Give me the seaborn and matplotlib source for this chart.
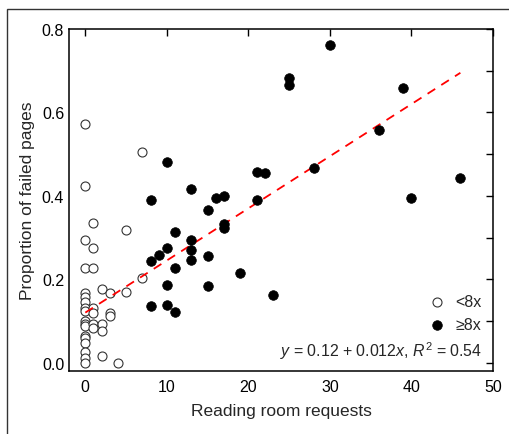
import matplotlib
matplotlib.use("Agg")
import matplotlib.pyplot as plt
import seaborn as sns
import pandas as pd
import numpy as np
from matplotlib.patches import Rectangle
from matplotlib.ticker import MultipleLocator

# puntos con menos de 8 consultas (circulos vacios)
x_menos = [0, 0, 0, 0, 0, 0, 0, 0, 0, 0, 0, 0, 0, 0, 0, 0, 0, 0,
           1, 1, 1, 1, 1, 1, 1,
           2, 2, 2, 2,
           3, 3, 3,
           4,
           5, 5,
           7, 7]
y_menos = [0.573, 0.423, 0.293, 0.228, 0.168, 0.157, 0.145, 0.132, 0.125,
           0.100, 0.092, 0.088, 0.065, 0.058, 0.048, 0.025, 0.012, 0.0,
           0.334, 0.276, 0.228, 0.132, 0.120, 0.092, 0.084,
           0.176, 0.092, 0.076, 0.016,
           0.166, 0.120, 0.112,
           0.0,
           0.318, 0.170,
           0.505, 0.204]

# puntos con 8 o mas consultas (circulos rellenos)
x_mas = [8, 8, 8, 9, 10, 10, 10, 10, 11, 11, 11, 13, 13, 13, 13,
         15, 15, 15, 16, 17, 17, 17, 19, 21, 21, 22, 23, 25, 25,
         28, 30, 36, 39, 40, 46]
y_mas = [0.391, 0.243, 0.136, 0.258, 0.482, 0.276, 0.186, 0.138,
         0.314, 0.226, 0.122, 0.416, 0.294, 0.271, 0.246,
         0.367, 0.256, 0.184, 0.395, 0.400, 0.332, 0.324, 0.214,
         0.456, 0.390, 0.454, 0.162, 0.682, 0.666,
         0.466, 0.761, 0.558, 0.658, 0.395, 0.442]

# recta de ajuste
intercepto = 0.12
pendiente = 0.0125
x_recta = [0, 46]

df_menos = pd.DataFrame({'x': x_menos, 'y': y_menos})
df_mas = pd.DataFrame({'x': x_mas, 'y': y_mas})
df_recta = pd.DataFrame({'x': x_recta})
df_recta['y'] = intercepto + pendiente * df_recta['x']

sns.set_style('white')
plt.rcParams['font.family'] = ['Liberation Sans', 'DejaVu Sans']
plt.rcParams['mathtext.fontset'] = 'custom'
plt.rcParams['mathtext.it'] = 'Liberation Sans:italic'
plt.rcParams['mathtext.rm'] = 'Liberation Sans'

fig = plt.figure(figsize=(5.1, 4.35), dpi=100)
ax = fig.add_axes([69/510, 1 - 372/435, (493 - 69)/510, (372 - 30)/435])

# marco exterior de la figura
fig.patches.append(Rectangle((7/510, -0.1), 1.2, 1 - 10/435 + 0.1,
                             transform=fig.transFigure, fill=False,
                             edgecolor='#333333', linewidth=1.0))

sns.lineplot(data=df_recta, x='x', y='y', ax=ax, color='red',
             linestyle=(0, (5, 4)), linewidth=1.3, zorder=3)
sns.scatterplot(data=df_menos, x='x', y='y', ax=ax, s=42, facecolor='white',
                edgecolor='#333333', linewidth=0.8, zorder=2, label='<8x')
sns.scatterplot(data=df_mas, x='x', y='y', ax=ax, s=48, color='black',
                edgecolor='black', linewidth=0.5, zorder=4, label='\u22658x')

ax.set_xlim(-2, 50)
ax.set_ylim(-0.02, 0.8)
ax.xaxis.set_major_locator(MultipleLocator(10))
ax.yaxis.set_major_locator(MultipleLocator(0.2))
ax.yaxis.set_minor_locator(MultipleLocator(0.1))
ax.yaxis.set_major_formatter(matplotlib.ticker.FormatStrFormatter('%.1f'))
ax.tick_params(which='both', direction='in', top=True, right=True,
               length=5, width=1, labelsize=11.5, colors='black')
ax.tick_params(axis='x', pad=6)
for s in ax.spines.values():
    s.set_color('black')
    s.set_linewidth(1.1)

ax.set_xlabel('Reading room requests', fontsize=12.5, labelpad=6)
ax.set_ylabel('Proportion of failed pages', fontsize=12.5, labelpad=5)

leg = ax.legend(loc='lower right', bbox_to_anchor=(1.0, 0.08), frameon=False,
                fontsize=11.5, handletextpad=0.15, labelspacing=0.5,
                borderaxespad=0.3)
ax.text(0.975, 0.03, r'$y$ = 0.12 + 0.012$x$, $R^2$ = 0.54',
        transform=ax.transAxes, ha='right', va='bottom', fontsize=11.4)

fig.savefig('out.png', dpi=100)
